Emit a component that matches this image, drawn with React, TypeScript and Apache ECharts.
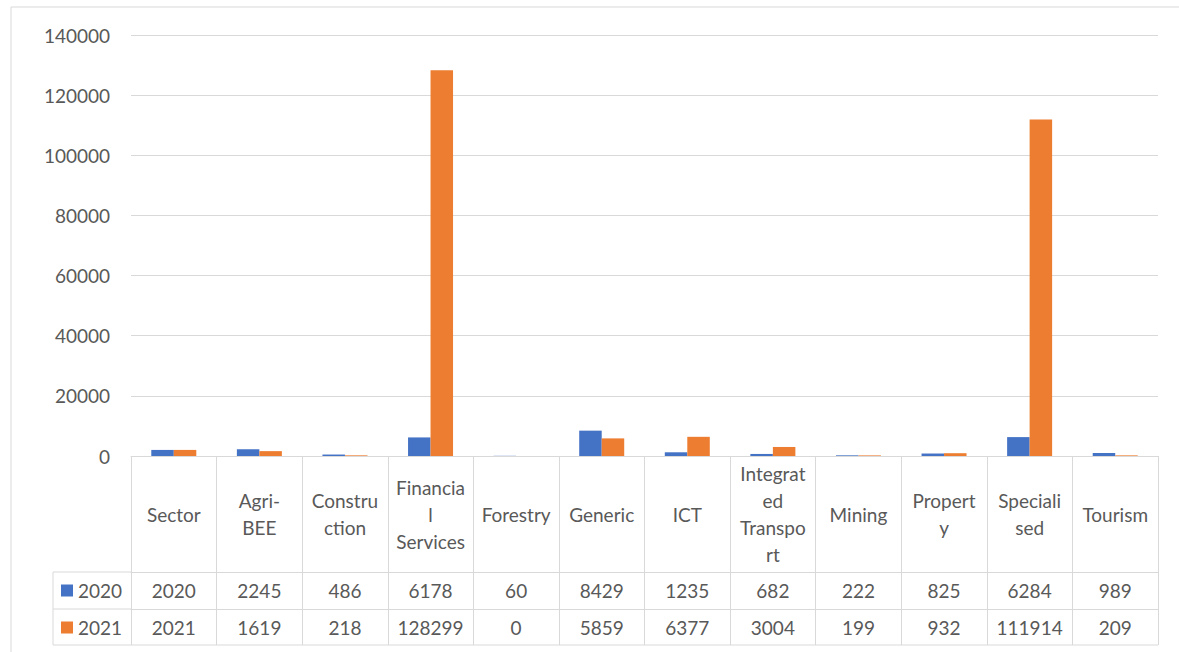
import React, { useEffect, useRef } from "react";
import * as echarts from "echarts";

const categories = ["Sector", "Agri-BEE", "Construction", "Financial Services", "Forestry", "Generic", "ICT", "Integrated Transport", "Mining", "Property", "Specialised", "Tourism"];
const categoryLabels = ["Sector", "Agri-\nBEE", "Constru\nction", "Financia\nl\nServices", "Forestry", "Generic", "ICT", "Integrat\ned\nTranspo\nrt", "Mining", "Propert\ny", "Speciali\nsed", "Tourism"];
const values2020 = [2020, 2245, 486, 6178, 60, 8429, 1235, 682, 222, 825, 6284, 989];
const values2021 = [2021, 1619, 218, 128299, 0, 5859, 6377, 3004, 199, 932, 111914, 209];
const seriesNames = ["2020", "2021"];
const yTicks = { min: 0, max: 140000, interval: 20000 };

const FONT = "Lato, 'Open Sans', sans-serif";
const TXT = "#595959";
const LINE = "#d9d9d9";

export default function App() {
  const ref = useRef<HTMLDivElement>(null);
  useEffect(() => {
    document.body.style.margin = "0";
    const chart = echarts.init(ref.current!, undefined, { renderer: "svg" });
    const L = 131, R = 1158, T = 35, B = 456;
    const row1 = 572, row2 = 609, row3 = 645, legL = 53;
    const xBase = {
      type: "category" as const,
      data: categories,
      gridIndex: 0,
      position: "bottom" as const,
      axisLine: { show: true, lineStyle: { color: LINE, width: 1 } },
      splitLine: { show: false },
    };
    chart.setOption({
      animation: false,
      textStyle: { fontFamily: FONT },
      grid: { left: L, right: 1179 - R, top: T, bottom: 652 - B },
      legend: {
        orient: "vertical",
        left: 61,
        top: 581,
        itemWidth: 12,
        itemHeight: 12,
        itemGap: 18,
        itemTextGap: 6,
        padding: 0,
        icon: "rect",
        textStyle: { fontSize: 19, color: TXT, fontFamily: FONT },
        data: seriesNames,
      },
      xAxis: [
        {
          ...xBase,
          axisTick: { show: true, length: row1 - B, interval: 0, lineStyle: { color: LINE } },
          axisLabel: {
            interval: 0,
            margin: (row1 - B) / 2,
            verticalAlign: "middle",
            color: TXT,
            fontSize: 19,
            lineHeight: 27,
            fontFamily: FONT,
            formatter: (_v: string, i: number) => categoryLabels[i],
          },
        },
        {
          ...xBase,
          offset: row1 - B,
          axisTick: { show: true, length: row2 - row1, interval: 0, lineStyle: { color: LINE } },
          axisLabel: {
            interval: 0,
            margin: (row2 - row1) / 2,
            verticalAlign: "middle",
            color: TXT,
            fontSize: 19,
            fontFamily: FONT,
            formatter: (_v: string, i: number) => String(values2020[i]),
          },
        },
        {
          ...xBase,
          offset: row2 - B,
          axisTick: { show: true, length: row3 - row2, interval: 0, lineStyle: { color: LINE } },
          axisLabel: {
            interval: 0,
            margin: (row3 - row2) / 2,
            verticalAlign: "middle",
            color: TXT,
            fontSize: 19,
            fontFamily: FONT,
            formatter: (_v: string, i: number) => String(values2021[i]),
          },
        },
      ],
      yAxis: {
        type: "value",
        min: yTicks.min,
        max: yTicks.max,
        interval: yTicks.interval,
        axisLine: { show: false },
        axisTick: { show: false },
        splitLine: { lineStyle: { color: LINE, width: 1 } },
        axisLabel: { color: TXT, fontSize: 19, margin: 21, fontFamily: FONT, formatter: (v: number) => String(v) },
      },
      series: [
        { name: seriesNames[0], type: "bar", data: values2020, barWidth: 22.5, barGap: "0%", itemStyle: { color: "#4472C4" } },
        { name: seriesNames[1], type: "bar", data: values2021, barWidth: 22.5, barGap: "0%", itemStyle: { color: "#ED7D31" } },
      ],
      graphic: [
        { type: "rect", silent: true, shape: { x: 11, y: 7, width: 1200, height: 700 }, style: { fill: "none", stroke: LINE, lineWidth: 1 } },
        { type: "line", silent: true, shape: { x1: legL, y1: row1, x2: L, y2: row1 }, style: { stroke: LINE, lineWidth: 1 } },
        { type: "line", silent: true, shape: { x1: legL, y1: row2, x2: L, y2: row2 }, style: { stroke: LINE, lineWidth: 1 } },
        { type: "line", silent: true, shape: { x1: legL, y1: row3, x2: R, y2: row3 }, style: { stroke: LINE, lineWidth: 1 } },
        { type: "line", silent: true, shape: { x1: legL, y1: row1, x2: legL, y2: row3 }, style: { stroke: LINE, lineWidth: 1 } },
      ],
    });
    return () => chart.dispose();
  }, []);
  return <div ref={ref} style={{ width: 1179, height: 652 }} />;
}
